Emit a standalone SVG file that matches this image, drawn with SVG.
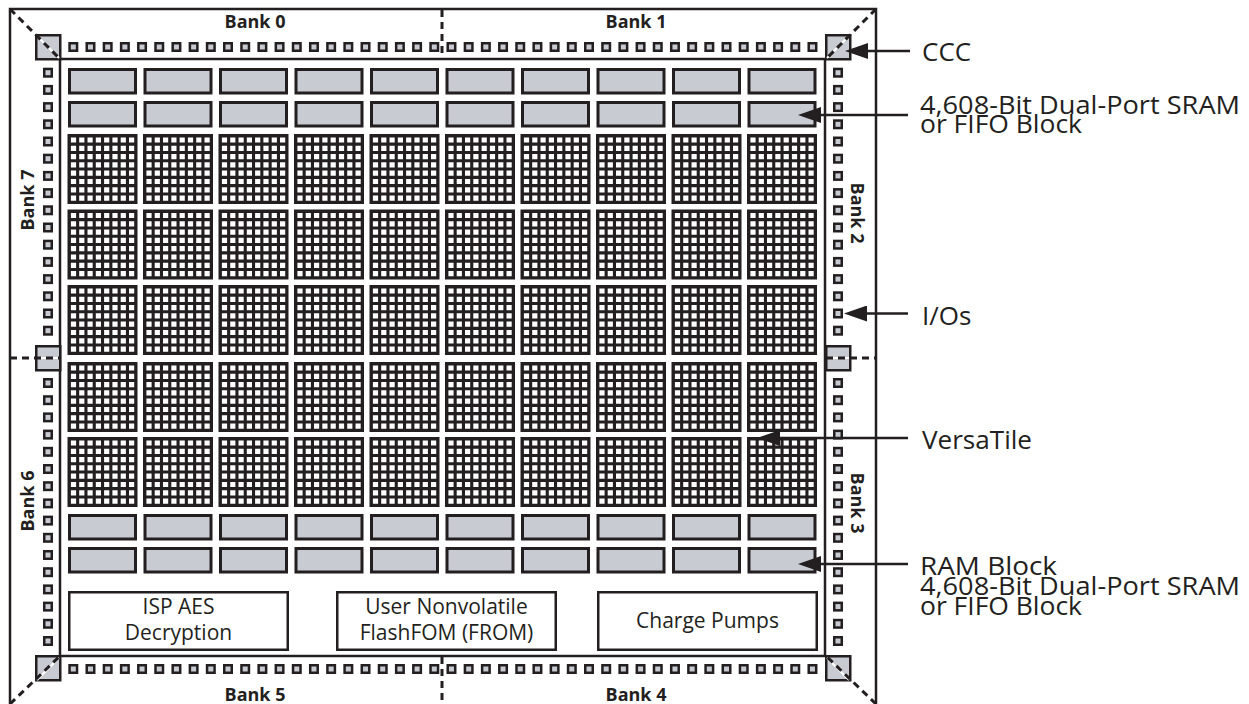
<svg xmlns="http://www.w3.org/2000/svg" xmlns:xlink="http://www.w3.org/1999/xlink" width="1249" height="704" viewBox="0 0 1249 704">
<style>
.ln{fill:none;stroke:#231f20;stroke-width:2.5}
.ccc{fill:#c8cbd2;stroke:#231f20;stroke-width:2.5}
.pad{fill:#c8cbd2;stroke:#231f20;stroke-width:2.5}
.ram{fill:#c8cbd2;stroke:#231f20;stroke-width:3}
.box{fill:#fff;stroke:#231f20;stroke-width:2.5}
.dash{fill:none;stroke:#231f20;stroke-width:3;stroke-dasharray:7 5}
.wht{fill:none;stroke:#fff;stroke-width:2}
.bank{font-family:"Open Sans","Noto Sans",sans-serif;font-weight:bold;font-size:18px;fill:#231f20;text-anchor:middle}
.btxt{font-family:"Open Sans","Noto Sans",sans-serif;font-size:21px;fill:#231f20;text-anchor:middle}
.lbl{font-family:"Open Sans","Noto Sans",sans-serif;font-size:26px;fill:#231f20}
.arr{fill:none;stroke:#231f20;stroke-width:2.5;marker-end:url(#ah)}
</style>
<defs>
<marker id="ah" viewBox="0 0 23 16" refX="2" refY="8" markerWidth="23" markerHeight="16" markerUnits="userSpaceOnUse" orient="auto">
<path d="M0,0 L23,8 L0,16 z" fill="#231f20"/>
</marker>
<g id="tile">
<rect x="0" y="0" width="70" height="70" fill="#231f20"/>
<path fill="#fff" d="M3.4,3.4h5.2v5.2h-5.2z m8.3,0h5.2v5.2h-5.2z m8.3,0h5.2v5.2h-5.2z m8.3,0h5.2v5.2h-5.2z m8.3,0h5.2v5.2h-5.2z m8.3,0h5.2v5.2h-5.2z m8.3,0h5.2v5.2h-5.2z m8.3,0h5.2v5.2h-5.2z
M3.4,11.7h5.2v5.2h-5.2z m8.3,0h5.2v5.2h-5.2z m8.3,0h5.2v5.2h-5.2z m8.3,0h5.2v5.2h-5.2z m8.3,0h5.2v5.2h-5.2z m8.3,0h5.2v5.2h-5.2z m8.3,0h5.2v5.2h-5.2z m8.3,0h5.2v5.2h-5.2z
M3.4,20h5.2v5.2h-5.2z m8.3,0h5.2v5.2h-5.2z m8.3,0h5.2v5.2h-5.2z m8.3,0h5.2v5.2h-5.2z m8.3,0h5.2v5.2h-5.2z m8.3,0h5.2v5.2h-5.2z m8.3,0h5.2v5.2h-5.2z m8.3,0h5.2v5.2h-5.2z
M3.4,28.3h5.2v5.2h-5.2z m8.3,0h5.2v5.2h-5.2z m8.3,0h5.2v5.2h-5.2z m8.3,0h5.2v5.2h-5.2z m8.3,0h5.2v5.2h-5.2z m8.3,0h5.2v5.2h-5.2z m8.3,0h5.2v5.2h-5.2z m8.3,0h5.2v5.2h-5.2z
M3.4,36.6h5.2v5.2h-5.2z m8.3,0h5.2v5.2h-5.2z m8.3,0h5.2v5.2h-5.2z m8.3,0h5.2v5.2h-5.2z m8.3,0h5.2v5.2h-5.2z m8.3,0h5.2v5.2h-5.2z m8.3,0h5.2v5.2h-5.2z m8.3,0h5.2v5.2h-5.2z
M3.4,44.9h5.2v5.2h-5.2z m8.3,0h5.2v5.2h-5.2z m8.3,0h5.2v5.2h-5.2z m8.3,0h5.2v5.2h-5.2z m8.3,0h5.2v5.2h-5.2z m8.3,0h5.2v5.2h-5.2z m8.3,0h5.2v5.2h-5.2z m8.3,0h5.2v5.2h-5.2z
M3.4,53.2h5.2v5.2h-5.2z m8.3,0h5.2v5.2h-5.2z m8.3,0h5.2v5.2h-5.2z m8.3,0h5.2v5.2h-5.2z m8.3,0h5.2v5.2h-5.2z m8.3,0h5.2v5.2h-5.2z m8.3,0h5.2v5.2h-5.2z m8.3,0h5.2v5.2h-5.2z
M3.4,61.5h5.2v5.2h-5.2z m8.3,0h5.2v5.2h-5.2z m8.3,0h5.2v5.2h-5.2z m8.3,0h5.2v5.2h-5.2z m8.3,0h5.2v5.2h-5.2z m8.3,0h5.2v5.2h-5.2z m8.3,0h5.2v5.2h-5.2z m8.3,0h5.2v5.2h-5.2z"/>
</g>
<rect id="pad" class="pad" x="-3.75" y="-3.75" width="7.5" height="7.5"/>
</defs>

<g id="chip-outline">
<path class="ln" d="M10,706 V9 H876 V706"/>
<rect id="core" class="ln" x="60" y="59" width="765" height="597"/>
</g>

<g id="io-bank-0-1">
<use href="#pad" x="73.3" y="47"/><use href="#pad" x="90.49" y="47"/><use href="#pad" x="107.68" y="47"/><use href="#pad" x="124.87" y="47"/><use href="#pad" x="142.06" y="47"/><use href="#pad" x="159.25" y="47"/><use href="#pad" x="176.44" y="47"/><use href="#pad" x="193.63" y="47"/><use href="#pad" x="210.82" y="47"/><use href="#pad" x="228.01" y="47"/><use href="#pad" x="245.2" y="47"/><use href="#pad" x="262.39" y="47"/><use href="#pad" x="279.58" y="47"/><use href="#pad" x="296.77" y="47"/><use href="#pad" x="313.96" y="47"/><use href="#pad" x="331.15" y="47"/><use href="#pad" x="348.34" y="47"/><use href="#pad" x="365.53" y="47"/><use href="#pad" x="382.72" y="47"/><use href="#pad" x="399.91" y="47"/><use href="#pad" x="417.1" y="47"/><use href="#pad" x="434.29" y="47"/>
<use href="#pad" x="451.48" y="47"/><use href="#pad" x="468.67" y="47"/><use href="#pad" x="485.86" y="47"/><use href="#pad" x="503.05" y="47"/><use href="#pad" x="520.24" y="47"/><use href="#pad" x="537.43" y="47"/><use href="#pad" x="554.62" y="47"/><use href="#pad" x="571.81" y="47"/><use href="#pad" x="589" y="47"/><use href="#pad" x="606.19" y="47"/><use href="#pad" x="623.38" y="47"/><use href="#pad" x="640.57" y="47"/><use href="#pad" x="657.76" y="47"/><use href="#pad" x="674.95" y="47"/><use href="#pad" x="692.14" y="47"/><use href="#pad" x="709.33" y="47"/><use href="#pad" x="726.52" y="47"/><use href="#pad" x="743.71" y="47"/><use href="#pad" x="760.9" y="47"/><use href="#pad" x="778.09" y="47"/><use href="#pad" x="795.28" y="47"/><use href="#pad" x="812.47" y="47"/>
</g>
<g id="io-bank-5-4">
<use href="#pad" x="73.3" y="669"/><use href="#pad" x="90.49" y="669"/><use href="#pad" x="107.68" y="669"/><use href="#pad" x="124.87" y="669"/><use href="#pad" x="142.06" y="669"/><use href="#pad" x="159.25" y="669"/><use href="#pad" x="176.44" y="669"/><use href="#pad" x="193.63" y="669"/><use href="#pad" x="210.82" y="669"/><use href="#pad" x="228.01" y="669"/><use href="#pad" x="245.2" y="669"/><use href="#pad" x="262.39" y="669"/><use href="#pad" x="279.58" y="669"/><use href="#pad" x="296.77" y="669"/><use href="#pad" x="313.96" y="669"/><use href="#pad" x="331.15" y="669"/><use href="#pad" x="348.34" y="669"/><use href="#pad" x="365.53" y="669"/><use href="#pad" x="382.72" y="669"/><use href="#pad" x="399.91" y="669"/><use href="#pad" x="417.1" y="669"/><use href="#pad" x="434.29" y="669"/>
<use href="#pad" x="451.48" y="669"/><use href="#pad" x="468.67" y="669"/><use href="#pad" x="485.86" y="669"/><use href="#pad" x="503.05" y="669"/><use href="#pad" x="520.24" y="669"/><use href="#pad" x="537.43" y="669"/><use href="#pad" x="554.62" y="669"/><use href="#pad" x="571.81" y="669"/><use href="#pad" x="589" y="669"/><use href="#pad" x="606.19" y="669"/><use href="#pad" x="623.38" y="669"/><use href="#pad" x="640.57" y="669"/><use href="#pad" x="657.76" y="669"/><use href="#pad" x="674.95" y="669"/><use href="#pad" x="692.14" y="669"/><use href="#pad" x="709.33" y="669"/><use href="#pad" x="726.52" y="669"/><use href="#pad" x="743.71" y="669"/><use href="#pad" x="760.9" y="669"/><use href="#pad" x="778.09" y="669"/><use href="#pad" x="795.28" y="669"/><use href="#pad" x="812.47" y="669"/>
</g>
<g id="io-bank-7-6">
<use href="#pad" x="48" y="72.7"/><use href="#pad" x="48" y="89.9"/><use href="#pad" x="48" y="107.1"/><use href="#pad" x="48" y="124.3"/><use href="#pad" x="48" y="141.5"/><use href="#pad" x="48" y="158.7"/><use href="#pad" x="48" y="175.9"/><use href="#pad" x="48" y="193.1"/><use href="#pad" x="48" y="210.3"/><use href="#pad" x="48" y="227.5"/><use href="#pad" x="48" y="244.7"/><use href="#pad" x="48" y="261.9"/><use href="#pad" x="48" y="279.1"/><use href="#pad" x="48" y="296.3"/><use href="#pad" x="48" y="313.5"/><use href="#pad" x="48" y="330.7"/>
<use href="#pad" x="48" y="383"/><use href="#pad" x="48" y="400.2"/><use href="#pad" x="48" y="417.4"/><use href="#pad" x="48" y="434.6"/><use href="#pad" x="48" y="451.8"/><use href="#pad" x="48" y="469"/><use href="#pad" x="48" y="486.2"/><use href="#pad" x="48" y="503.4"/><use href="#pad" x="48" y="520.6"/><use href="#pad" x="48" y="537.8"/><use href="#pad" x="48" y="555"/><use href="#pad" x="48" y="572.2"/><use href="#pad" x="48" y="589.4"/><use href="#pad" x="48" y="606.6"/><use href="#pad" x="48" y="623.8"/><use href="#pad" x="48" y="641"/>
</g>
<g id="io-bank-2-3">
<use href="#pad" x="838" y="72.7"/><use href="#pad" x="838" y="89.9"/><use href="#pad" x="838" y="107.1"/><use href="#pad" x="838" y="124.3"/><use href="#pad" x="838" y="141.5"/><use href="#pad" x="838" y="158.7"/><use href="#pad" x="838" y="175.9"/><use href="#pad" x="838" y="193.1"/><use href="#pad" x="838" y="210.3"/><use href="#pad" x="838" y="227.5"/><use href="#pad" x="838" y="244.7"/><use href="#pad" x="838" y="261.9"/><use href="#pad" x="838" y="279.1"/><use href="#pad" x="838" y="296.3"/><use href="#pad" x="838" y="313.5"/><use href="#pad" x="838" y="330.7"/>
<use href="#pad" x="838" y="383"/><use href="#pad" x="838" y="400.2"/><use href="#pad" x="838" y="417.4"/><use href="#pad" x="838" y="434.6"/><use href="#pad" x="838" y="451.8"/><use href="#pad" x="838" y="469"/><use href="#pad" x="838" y="486.2"/><use href="#pad" x="838" y="503.4"/><use href="#pad" x="838" y="520.6"/><use href="#pad" x="838" y="537.8"/><use href="#pad" x="838" y="555"/><use href="#pad" x="838" y="572.2"/><use href="#pad" x="838" y="589.4"/><use href="#pad" x="838" y="606.6"/><use href="#pad" x="838" y="623.8"/><use href="#pad" x="838" y="641"/>
</g>

<g id="ccc-blocks">
<rect class="ccc" x="36.25" y="35.25" width="24" height="24"/>
<rect class="ccc" x="826.25" y="35.25" width="24" height="24"/>
<rect class="ccc" x="36.25" y="346.25" width="24" height="24"/>
<rect class="ccc" x="826.25" y="346.25" width="24" height="24"/>
<rect class="ccc" x="36.25" y="656.25" width="24" height="24"/>
<rect class="ccc" x="826.25" y="656.25" width="24" height="24"/>
</g>

<g id="bank-dividers">
<path class="wht" d="M37,36 L59,58 M849,36 L827,58 M37,680 L59,658 M849,680 L827,658 M37,358 H59 M827,358 H849"/>
<path class="dash" d="M10,9 L61,60 M876,9 L825,60 M10,704 L61,655 M876,704 L825,655 M10,358 H60 M826,358 H876 M442,10 V58 M442,657 V704"/>
</g>

<g id="ram-blocks">
<rect class="ram" x="69.5" y="69.5" width="66" height="23.5"/><rect class="ram" x="145" y="69.5" width="66" height="23.5"/><rect class="ram" x="220.5" y="69.5" width="66" height="23.5"/><rect class="ram" x="296" y="69.5" width="66" height="23.5"/><rect class="ram" x="371.5" y="69.5" width="66" height="23.5"/><rect class="ram" x="447" y="69.5" width="66" height="23.5"/><rect class="ram" x="522.5" y="69.5" width="66" height="23.5"/><rect class="ram" x="598" y="69.5" width="66" height="23.5"/><rect class="ram" x="673.5" y="69.5" width="66" height="23.5"/><rect class="ram" x="749" y="69.5" width="66" height="23.5"/>
<rect class="ram" x="69.5" y="102.5" width="66" height="23.5"/><rect class="ram" x="145" y="102.5" width="66" height="23.5"/><rect class="ram" x="220.5" y="102.5" width="66" height="23.5"/><rect class="ram" x="296" y="102.5" width="66" height="23.5"/><rect class="ram" x="371.5" y="102.5" width="66" height="23.5"/><rect class="ram" x="447" y="102.5" width="66" height="23.5"/><rect class="ram" x="522.5" y="102.5" width="66" height="23.5"/><rect class="ram" x="598" y="102.5" width="66" height="23.5"/><rect class="ram" x="673.5" y="102.5" width="66" height="23.5"/><rect class="ram" x="749" y="102.5" width="66" height="23.5"/>
<rect class="ram" x="69.5" y="515.5" width="66" height="23.5"/><rect class="ram" x="145" y="515.5" width="66" height="23.5"/><rect class="ram" x="220.5" y="515.5" width="66" height="23.5"/><rect class="ram" x="296" y="515.5" width="66" height="23.5"/><rect class="ram" x="371.5" y="515.5" width="66" height="23.5"/><rect class="ram" x="447" y="515.5" width="66" height="23.5"/><rect class="ram" x="522.5" y="515.5" width="66" height="23.5"/><rect class="ram" x="598" y="515.5" width="66" height="23.5"/><rect class="ram" x="673.5" y="515.5" width="66" height="23.5"/><rect class="ram" x="749" y="515.5" width="66" height="23.5"/>
<rect class="ram" x="69.5" y="548.5" width="66" height="23.5"/><rect class="ram" x="145" y="548.5" width="66" height="23.5"/><rect class="ram" x="220.5" y="548.5" width="66" height="23.5"/><rect class="ram" x="296" y="548.5" width="66" height="23.5"/><rect class="ram" x="371.5" y="548.5" width="66" height="23.5"/><rect class="ram" x="447" y="548.5" width="66" height="23.5"/><rect class="ram" x="522.5" y="548.5" width="66" height="23.5"/><rect class="ram" x="598" y="548.5" width="66" height="23.5"/><rect class="ram" x="673.5" y="548.5" width="66" height="23.5"/><rect class="ram" x="749" y="548.5" width="66" height="23.5"/>
</g>

<g id="versatile-array">
<use href="#tile" x="67.5" y="134"/><use href="#tile" x="143" y="134"/><use href="#tile" x="218.5" y="134"/><use href="#tile" x="294" y="134"/><use href="#tile" x="369.5" y="134"/><use href="#tile" x="445" y="134"/><use href="#tile" x="520.5" y="134"/><use href="#tile" x="596" y="134"/><use href="#tile" x="671.5" y="134"/><use href="#tile" x="747" y="134"/>
<use href="#tile" x="67.5" y="209.5"/><use href="#tile" x="143" y="209.5"/><use href="#tile" x="218.5" y="209.5"/><use href="#tile" x="294" y="209.5"/><use href="#tile" x="369.5" y="209.5"/><use href="#tile" x="445" y="209.5"/><use href="#tile" x="520.5" y="209.5"/><use href="#tile" x="596" y="209.5"/><use href="#tile" x="671.5" y="209.5"/><use href="#tile" x="747" y="209.5"/>
<use href="#tile" x="67.5" y="285"/><use href="#tile" x="143" y="285"/><use href="#tile" x="218.5" y="285"/><use href="#tile" x="294" y="285"/><use href="#tile" x="369.5" y="285"/><use href="#tile" x="445" y="285"/><use href="#tile" x="520.5" y="285"/><use href="#tile" x="596" y="285"/><use href="#tile" x="671.5" y="285"/><use href="#tile" x="747" y="285"/>
<use href="#tile" x="67.5" y="362"/><use href="#tile" x="143" y="362"/><use href="#tile" x="218.5" y="362"/><use href="#tile" x="294" y="362"/><use href="#tile" x="369.5" y="362"/><use href="#tile" x="445" y="362"/><use href="#tile" x="520.5" y="362"/><use href="#tile" x="596" y="362"/><use href="#tile" x="671.5" y="362"/><use href="#tile" x="747" y="362"/>
<use href="#tile" x="67.5" y="437"/><use href="#tile" x="143" y="437"/><use href="#tile" x="218.5" y="437"/><use href="#tile" x="294" y="437"/><use href="#tile" x="369.5" y="437"/><use href="#tile" x="445" y="437"/><use href="#tile" x="520.5" y="437"/><use href="#tile" x="596" y="437"/><use href="#tile" x="671.5" y="437"/><use href="#tile" x="747" y="437"/>
</g>

<g id="isp-aes">
<rect class="box" x="69.25" y="592.25" width="218.5" height="57.5"/>
<text class="btxt" x="178.5" y="614">ISP AES</text>
<text class="btxt" x="178.5" y="640">Decryption</text>
</g>
<g id="user-from">
<rect class="box" x="337.25" y="592.25" width="218.5" height="57.5"/>
<text class="btxt" x="446.5" y="614">User Nonvolatile</text>
<text class="btxt" x="446.5" y="640">FlashFOM (FROM)</text>
</g>
<g id="charge-pumps">
<rect class="box" x="598.25" y="592.25" width="218.5" height="57.5"/>
<text class="btxt" x="707.5" y="628">Charge Pumps</text>
</g>

<g id="bank-labels">
<text class="bank" x="255" y="28">Bank 0</text>
<text class="bank" x="636" y="28">Bank 1</text>
<text class="bank" x="255" y="701">Bank 5</text>
<text class="bank" x="636" y="701">Bank 4</text>
<text class="bank" transform="translate(34,200) rotate(-90)">Bank 7</text>
<text class="bank" transform="translate(34,501) rotate(-90)">Bank 6</text>
<text class="bank" transform="translate(851,213) rotate(90)">Bank 2</text>
<text class="bank" transform="translate(851,503) rotate(90)">Bank 3</text>
</g>

<g id="callout-labels">
<text class="lbl" x="922" y="61">CCC</text>
<text class="lbl" x="920" y="114" textLength="320" lengthAdjust="spacingAndGlyphs">4,608-Bit Dual-Port SRAM</text>
<text class="lbl" x="920" y="133" textLength="162" lengthAdjust="spacingAndGlyphs">or FIFO Block</text>
<text class="lbl" x="922" y="325">I/Os</text>
<text class="lbl" x="922" y="449" textLength="110" lengthAdjust="spacingAndGlyphs">VersaTile</text>
<text class="lbl" x="920" y="575" textLength="137" lengthAdjust="spacingAndGlyphs">RAM Block</text>
<text class="lbl" x="920" y="595" textLength="320" lengthAdjust="spacingAndGlyphs">4,608-Bit Dual-Port SRAM</text>
<text class="lbl" x="920" y="615" textLength="162" lengthAdjust="spacingAndGlyphs">or FIFO Block</text>
</g>

<g id="connectors">
<line class="arr" x1="910" y1="51" x2="866" y2="51"/>
<line class="arr" x1="908" y1="115" x2="819" y2="115"/>
<line class="arr" x1="908" y1="313.5" x2="865" y2="313.5"/>
<line class="arr" x1="908" y1="438" x2="778" y2="438"/>
<line class="arr" x1="908" y1="564" x2="819" y2="564"/>
</g>
</svg>
